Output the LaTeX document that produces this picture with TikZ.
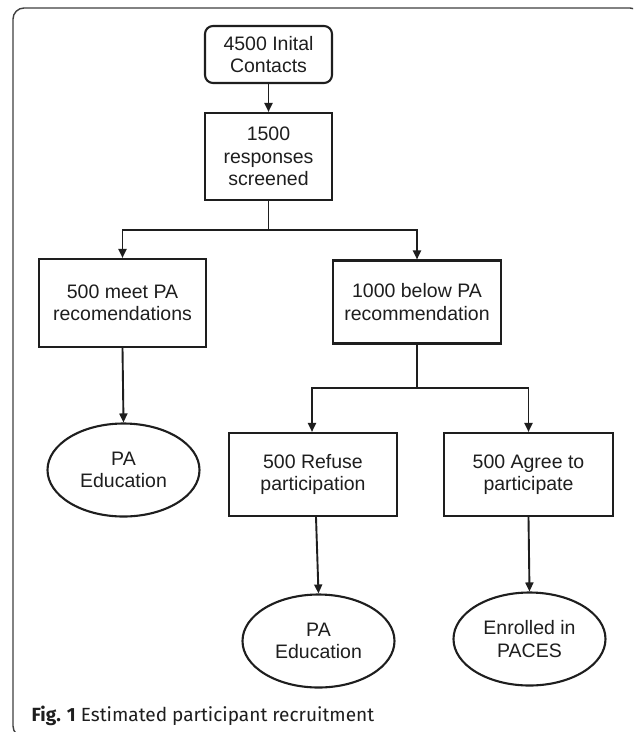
\documentclass[tikz,border=0pt]{standalone}
\usepackage{fontspec}
\usepackage{graphicx}
\setmainfont{Liberation Sans}
\newfontfamily\capfont{Fira Sans}
\usetikzlibrary{arrows.meta,shapes.geometric}
\definecolor{ink}{HTML}{1E1E1E}
\tikzset{
  flowbox/.style={draw=ink, line width=2.1pt, minimum width=#1, inner sep=0pt, align=center, text=ink,
    font=\fontsize{19.5}{22.5}\selectfont},
  flowoval/.style={draw=ink, line width=2.1pt, ellipse, minimum width=152pt, minimum height=93pt, inner sep=0pt,
    align=center, text=ink, font=\fontsize{19.5}{22.5}\selectfont},
  flowarrow/.style={draw=ink, line width=1.9pt, -{Triangle[length=9pt,width=8pt]}},
  flowline/.style={draw=ink, line width=1.9pt},
}
\begin{document}
\begin{tikzpicture}[x=1pt,y=-1pt]
\path[use as bounding box] (0,0) rectangle (633,732);
\fill[white] (0,0) rectangle (633,732);
\begin{scope}
\clip (0,0) rectangle (633,732);
\draw[draw=ink!85, line width=1.4pt, rounded corners=11pt] (13,8) rectangle (641,737);
\end{scope}

\node[flowbox=127pt, minimum height=57pt, rounded corners=8pt] (b1) at (268.5,54.5) {4500 Inital\\Contacts};
\node[flowbox=127pt, minimum height=87pt] (b2) at (268.5,156.5) {1500\\responses\\screened};
\node[flowbox=167pt, minimum height=88pt] (b3) at (122.5,303) {500 meet PA\\recomendations};
\node[flowbox=168pt, minimum height=83pt] (b4) at (417,302) {1000 below PA\\recommendation};
\node[flowbox=168pt, minimum height=83pt] (b5) at (313,474.5) {500 Refuse\\participation};
\node[flowbox=169pt, minimum height=83pt] (b6) at (528.5,474.5) {500 Agree to\\participate};
\node[flowoval] (e1) at (123.5,470) {PA\\Education};
\node[flowoval] (e2) at (318.5,641) {PA\\Education};
\node[flowoval] (e3) at (529.5,639) {Enrolled in\\PACES};

\coordinate (j1) at (268.5,230);
\coordinate (j2) at (417,388);

\draw[flowarrow] (b1) -- (b2);
\draw[flowline] (b2.south) -- (j1);
\draw[flowarrow] (j1) -| (b3.north);
\draw[flowarrow] (j1) -| (b4.north);
\draw[flowarrow] (b3.south) -- (e1.north);
\draw[flowline] (b4.south) -- (j2);
\draw[flowarrow] (j2) -| ([xshift=-1pt]b5.north);
\draw[flowarrow] (j2) -| (b6.north);
\draw[flowarrow] ([xshift=3pt]b5.south) -- (e2.north);
\draw[flowarrow] (b6.south) -- (e3.north);

\node[anchor=base west, inner sep=0pt, text=ink, font=\capfont\fontsize{18}{20}\selectfont] (cap) at (31.5,721)
  {\resizebox{342.5pt}{!}{\textbf{Fig. 1} Estimated participant recruitment}};
\end{tikzpicture}
\end{document}
